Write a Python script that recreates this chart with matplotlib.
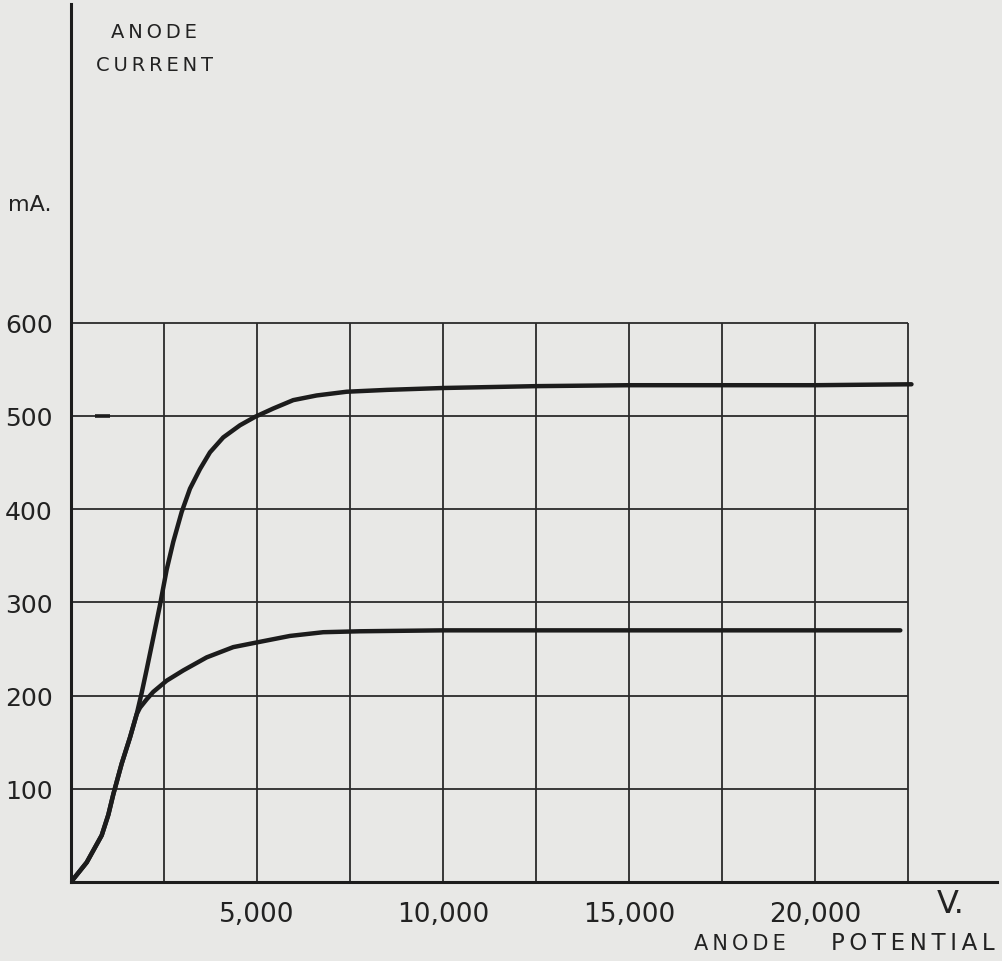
import matplotlib
matplotlib.use("Agg")
import matplotlib.pyplot as plt

# values
upper_v = [0, 422, 825, 1003, 1137, 1363, 1586, 1766, 1901, 2035, 2212, 2392,
           2572, 2750, 2976, 3199, 3468, 3737, 4094, 4543, 4946, 5438, 5976,
           6605, 7411, 8500, 10000, 12500, 15000, 17500, 20000, 22600]
upper_ma = [0, 21, 50, 72, 94, 127, 155, 180, 203, 228, 262, 297,
            335, 365, 397, 422, 443, 461, 477, 490, 499, 508, 517,
            522, 526, 528, 530, 532, 533, 533, 533, 534]

lower_v = [0, 422, 825, 1003, 1137, 1363, 1586, 1766, 1855, 2035, 2212, 2572,
           3019, 3648, 4363, 4992, 5887, 6782, 7769, 10000, 15000, 20000, 22300]
lower_ma = [0, 21, 50, 72, 94, 127, 155, 180, 187, 196, 204, 216,
            227, 241, 252, 257, 264, 268, 269, 270, 270, 270, 270]

grid_v = [0, 2500, 5000, 7500, 10000, 12500, 15000, 17500, 20000, 22500]
grid_ma = [100, 200, 300, 400, 500, 600]
xtick_v = [5000, 10000, 15000, 20000]
xtick_labels = ["5,000", "10,000", "15,000", "20,000"]
ytick_labels = ["100", "200", "300", "400", "500", "600"]

paper = "#e8e8e6"
ink = "#1c1c1c"
plt.rcParams['font.family'] = ['DejaVu Sans']

fig = plt.figure(figsize=(10.02, 9.62), dpi=100, facecolor=paper)
ax = fig.add_axes([71 / 1002, 79 / 962, 926 / 1002, 878 / 962])
ax.set_facecolor(paper)
ax.set_xlim(0, 24900)
ax.set_ylim(0, 942)

for s in ["top", "right"]:
    ax.spines[s].set_visible(False)
for s in ["left", "bottom"]:
    ax.spines[s].set_color(ink)
    ax.spines[s].set_linewidth(2.2)

# hand-ruled grid, only over the 0-22500 V / 0-600 mA block
ax.vlines(grid_v[1:], 0, 600, color="#2a2a2a", lw=1.3)
ax.hlines(grid_ma, 0, 22500, color="#2a2a2a", lw=1.3)
ax.hlines(500, 650, 1050, color=ink, lw=2.6)

for vs, ms in [(upper_v, upper_ma), (lower_v, lower_ma)]:
    ax.plot(vs, ms, color=ink, lw=3.2, solid_capstyle="round", solid_joinstyle="round")

ax.set_yticks(grid_ma)
ax.set_yticklabels(ytick_labels, fontsize=18, color="#222222")
ax.set_xticks(xtick_v)
ax.set_xticklabels(xtick_labels, fontsize=19, color="#222222")
ax.tick_params(axis="y", length=0, pad=13)
ax.tick_params(axis="x", length=0, pad=14)

def spaced(s):
    return "\u2009".join(s)

def ftext(x, y, s, **kw):
    fig.text(x / 1002, 1 - y / 962, s, color="#222222", va="center", **kw)

ftext(111, 32, spaced("ANODE"), fontsize=14, ha="left")
ftext(96, 66, spaced("CURRENT"), fontsize=14, ha="left")
ftext(8, 205, "mA.", fontsize=16, ha="left")
ftext(937, 905, "V.", fontsize=23, ha="left")
ftext(694, 944, spaced("ANODE"), fontsize=15, ha="left")
ftext(995, 944, spaced("POTENTIAL"), fontsize=16.5, ha="right")

fig.savefig("out.png", dpi=100, facecolor=paper)
